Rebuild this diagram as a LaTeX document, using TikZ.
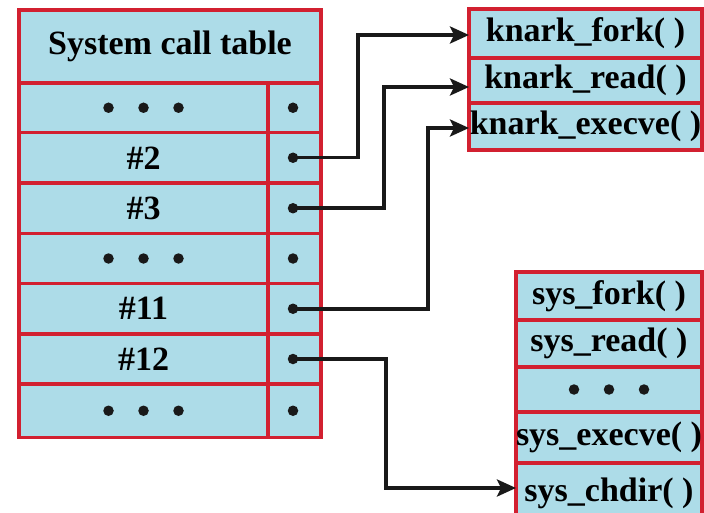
\documentclass[tikz,border=0pt]{standalone}
\usepackage{fontspec}
\setmainfont{Liberation Serif}
\usetikzlibrary{arrows.meta}
\definecolor{cellblue}{RGB}{173,220,232}
\definecolor{cellred}{RGB}{210,32,48}
\tikzset{
  cell/.style={draw=cellred, fill=cellblue, line width=3.5pt, inner sep=0pt, outer sep=0pt,
    font=\fontsize{34}{34}\selectfont\bfseries},
  bul/.style={circle, fill=black!90, inner sep=0pt, minimum size=10.5pt},
  link/.style={line width=3.5pt, draw=black!90, -{Stealth[length=19pt,width=17pt,inset=4pt]}},
}
\begin{document}
\begin{tikzpicture}[x=1pt,y=-1pt]
\useasboundingbox (0,0) rectangle (704,513);
% system call table
\node[cell, minimum width=302pt, minimum height=73pt] (hdr) at (170,46.5) {System call table};
\foreach \n/\yt/\yb/\lab in {r1/83/132.5/{}, r2/132.5/183/\#2, r3/183/233.5/\#3, r4/233.5/283.5/{}, r5/283.5/334/\#11, r6/334/384/\#12, r7/384/437.5/{}}{
  \pgfmathsetmacro{\yc}{(\yt+\yb)/2}
  \pgfmathsetmacro{\hh}{\yb-\yt}
  \node[cell, minimum width=249pt, minimum height=\hh pt] (\n l) at (143.5,\yc) {\lab};
  \node[cell, minimum width=53pt, minimum height=\hh pt] (\n r) at (294.5,\yc) {};
  \node[bul] (\n d) at (293,\yc) {};
}
\foreach \n in {r1,r4,r7}{
  \node[bul] (\n a) at ([xshift=-35pt]\n l.center) {};
  \node[bul] (\n b) at (\n l.center) {};
  \node[bul] (\n c) at ([xshift=35pt]\n l.center) {};
}
% knark functions
\node[cell, minimum width=233pt, minimum height=49pt] (kf) at (585.5,33.5) {knark\_fork( )};
\node[cell, minimum width=233pt, minimum height=45pt] (kr) at (585.5,80.5) {knark\_read( )};
\node[cell, minimum width=233pt, minimum height=47pt] (ke) at (585.5,126.5) {knark\_execve( )};
% sys functions
\node[cell, minimum width=186pt, minimum height=48pt] (sf) at (609,296) {sys\_fork( )};
\node[cell, minimum width=186pt, minimum height=47pt] (sr) at (609,343.5) {sys\_read( )};
\node[cell, minimum width=186pt, minimum height=45pt] (sd) at (609,389.5) {};
\node[cell, minimum width=186pt, minimum height=51pt] (se) at (609,437.5) {sys\_execve( )};
\node[cell, minimum width=186pt, minimum height=60pt] (sc) at (609,493) {sys\_chdir( )};
\node[bul] (sda) at ([xshift=-35pt]sd.center) {};
\node[bul] (sdb) at (sd.center) {};
\node[bul] (sdc) at ([xshift=35pt]sd.center) {};
% connectors
\coordinate (c2) at (358,0);
\coordinate (c3) at (384,0);
\coordinate (c11) at (428,0);
\coordinate (c12) at (386,0);
\draw[link] (r2d.center) -- (r2d.center -| c2) -- (c2 |- 0,35) -- (kf.west |- 0,35);
\draw[link] (r3d.center) -- (r3d.center -| c3) -- (c3 |- 0,87) -- (kr.west |- 0,87);
\draw[link] (r5d.center) -- (r5d.center -| c11) -- (c11 |- 0,128) -- (ke.west |- 0,128);
\draw[link] (r6d.center) -- (r6d.center -| c12) -- (c12 |- 0,488) -- (sc.west |- 0,488);
\end{tikzpicture}
\end{document}
